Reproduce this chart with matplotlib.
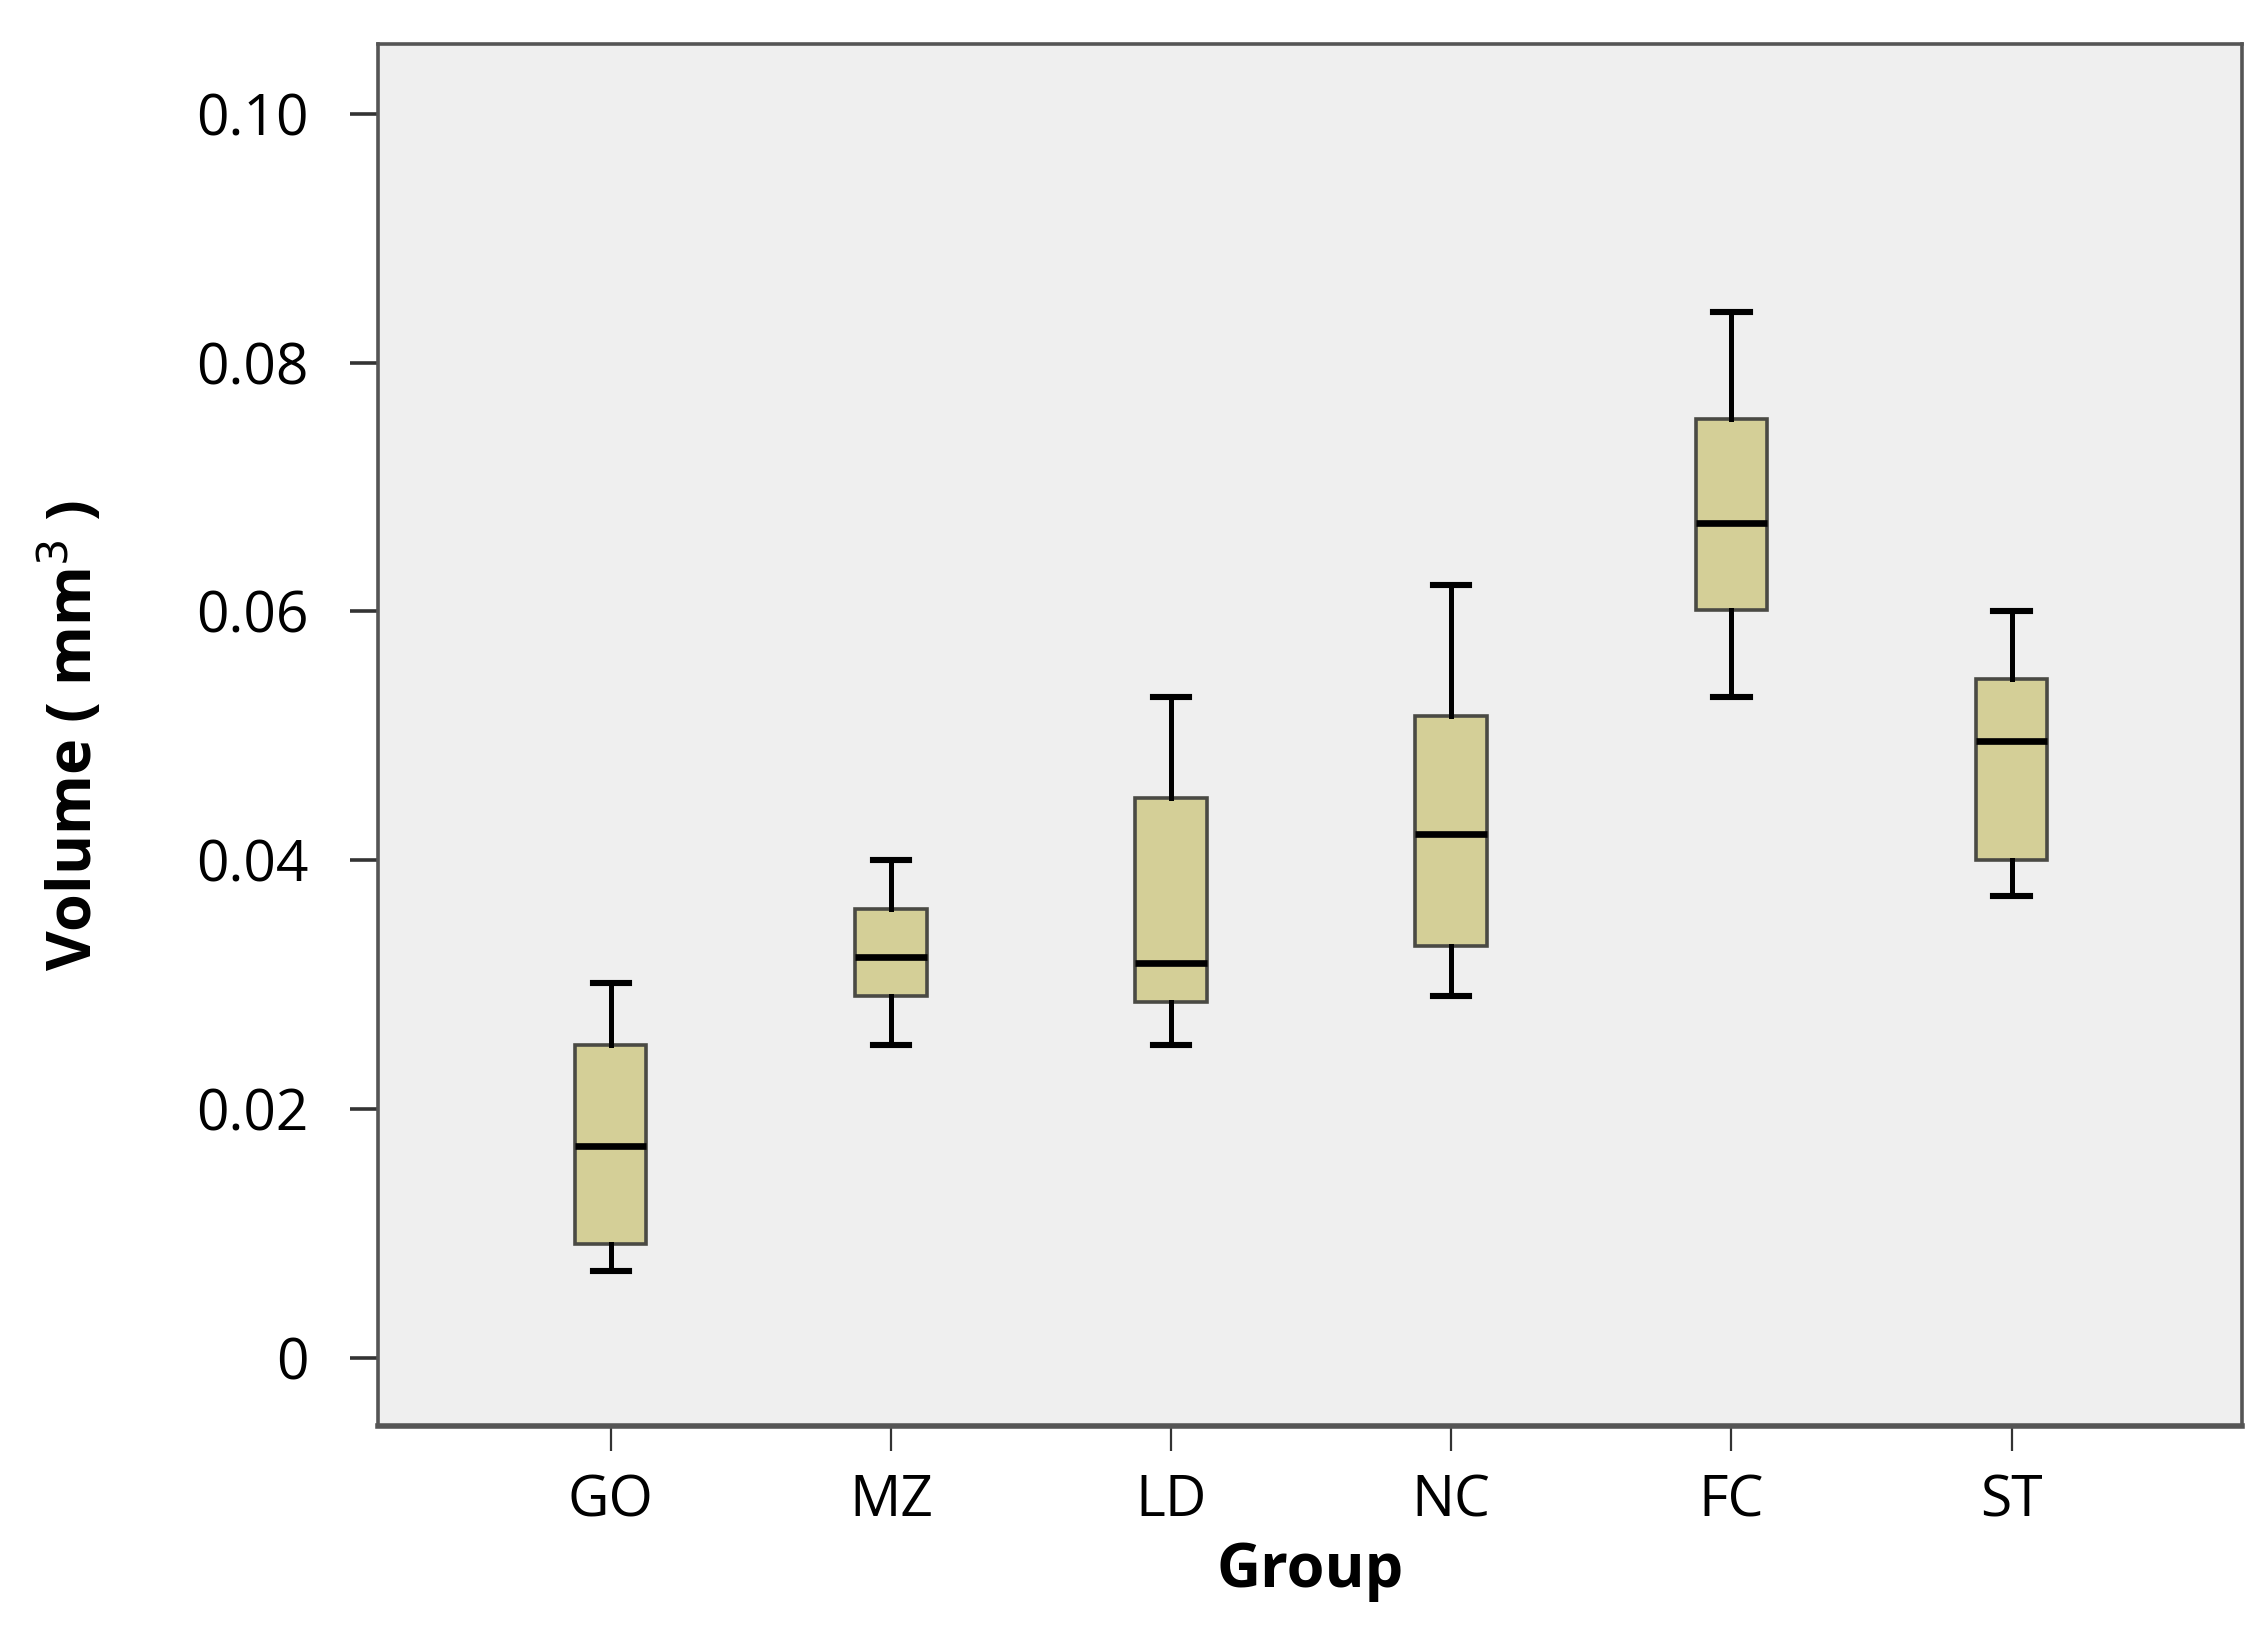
import matplotlib.pyplot as plt
import numpy as np

# Data
groups = ['GO', 'MZ', 'LD', 'NC', 'FC', 'ST']
whisker_low = [0.0070, 0.0251, 0.0251, 0.0291, 0.0531, 0.0371]
q1 = [0.0091, 0.0291, 0.0286, 0.0331, 0.0601, 0.0400]
median = [0.0170, 0.0322, 0.0317, 0.0421, 0.0671, 0.0496]
q3 = [0.0251, 0.0361, 0.0450, 0.0516, 0.0755, 0.0546]
whisker_high = [0.0301, 0.0400, 0.0531, 0.0621, 0.0841, 0.0600]

plt.rcParams['font.family'] = ['Open Sans', 'DejaVu Sans']

stats = []
for i, g in enumerate(groups):
    stats.append({'label': g, 'whislo': whisker_low[i], 'q1': q1[i], 'med': median[i],
                  'q3': q3[i], 'whishi': whisker_high[i], 'fliers': []})

fig = plt.figure(figsize=(11.325, 8.205), dpi=200)
ax = fig.add_axes([0.167, 0.131, 0.823, 0.842])
ax.set_facecolor('#efefef')

positions = np.arange(1, len(groups) + 1)
ax.bxp(stats, positions=positions, widths=0.255, patch_artist=True, showfliers=False,
       boxprops=dict(facecolor='#d4cf97', edgecolor='#4a4a44', linewidth=1.3),
       medianprops=dict(color='black', linewidth=2.4),
       whiskerprops=dict(color='black', linewidth=1.8),
       capprops=dict(color='black', linewidth=2.2),
       capwidths=0.13)

ax.set_xlim(0.17, 6.824)
ax.set_ylim(-0.0055, 0.1056)
ax.set_xticks(positions)
ax.set_xticklabels(groups)
ax.set_yticks([0, 0.02, 0.04, 0.06, 0.08, 0.10])
ax.set_yticklabels(['0', '0.02', '0.04', '0.06', '0.08', '0.10'])
ax.tick_params(axis='y', length=10, width=1.3, labelsize=20.5, pad=15, color='#333333')
ax.tick_params(axis='x', length=9, width=0.8, labelsize=20.5, pad=8, color='#333333')

for side in ['left', 'right', 'top', 'bottom']:
    ax.spines[side].set_color('#555555')
    ax.spines[side].set_linewidth(1.3)
ax.spines['bottom'].set_linewidth(2.0)

ax.set_xlabel('Group', fontsize=22, fontweight='bold', labelpad=4)
ax.set_ylabel('Volume ( mm$^3$ )', fontsize=22, fontweight='bold', labelpad=32)

fig.savefig('out.png', dpi=200, facecolor='white')
